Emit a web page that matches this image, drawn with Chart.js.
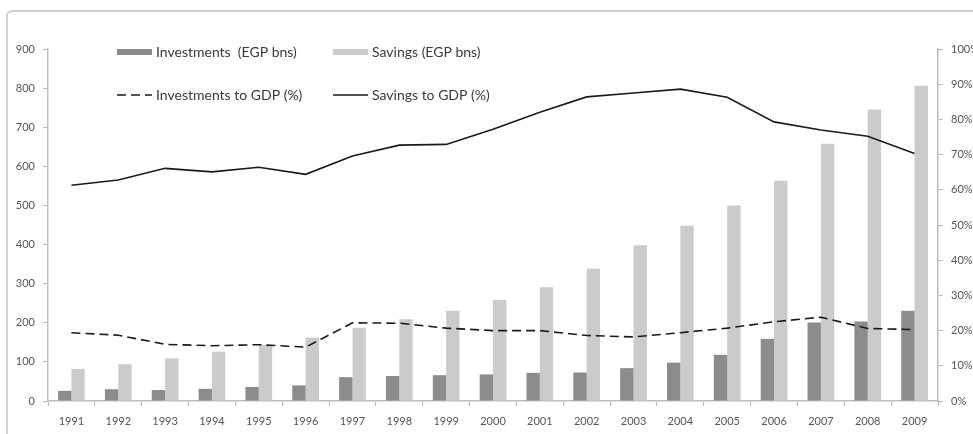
<!DOCTYPE html>
<html>
<head>
<meta charset="utf-8">
<script src="https://cdn.jsdelivr.net/npm/chart.js@4"></script>
<style>
  html, body { margin: 0; padding: 0; background: #fff; overflow: hidden; }
  #wrap { position: relative; width: 973px; height: 434px; }
  #frame {
    position: absolute; left: 6px; top: 10px; width: 1000px; height: 480px;
    border: 2px solid #cfcfcf; border-radius: 6px; pointer-events: none;
  }
</style>
</head>
<body>
<div id="wrap">
  <canvas id="myChart" width="973" height="434"></canvas>
  <div id="frame"></div>
</div>
<script>
var years = ['1991', '1992', '1993', '1994', '1995', '1996', '1997', '1998', '1999', '2000',
             '2001', '2002', '2003', '2004', '2005', '2006', '2007', '2008', '2009'];

// EGP bns
var investments = [26, 30, 28, 31, 36, 40, 61, 64, 66, 68, 72, 73, 84, 98, 118, 159, 201, 203, 231];
var savings = [82, 94, 109, 126, 144, 162, 187, 209, 231, 258, 291, 338, 398, 448, 500, 563, 658, 745, 806];

// share of GDP
var investToGdp = [0.194, 0.187, 0.161, 0.157, 0.160, 0.153, 0.222, 0.221, 0.207, 0.200,
                   0.200, 0.186, 0.182, 0.194, 0.207, 0.225, 0.238, 0.206, 0.203];
var savingsToGdp = [0.613, 0.628, 0.661, 0.651, 0.664, 0.644, 0.696, 0.727, 0.729, 0.772,
                    0.820, 0.864, 0.875, 0.886, 0.863, 0.793, 0.770, 0.752, 0.703];

var leftTicks = [0, 100, 200, 300, 400, 500, 600, 700, 800, 900];
var rightTicks = [0, 0.1, 0.2, 0.3, 0.4, 0.5, 0.6, 0.7, 0.8, 0.9, 1];

var tickFont = { family: 'Lato', size: 11 };
var axisColor = '#bdbdbd';

// legend laid out in two rows inside the plot
var gridLegend = {
  id: 'gridLegend',
  afterDraw: function (chart) {
    var c = chart.ctx;
    var slots = [[117, 52], [333, 52], [117, 95], [333, 95]];
    c.save();
    c.font = '14px Lato';
    c.textBaseline = 'middle';
    chart.data.datasets.forEach(function (ds, i) {
      var x = slots[i][0], y = slots[i][1];
      if (ds.type === 'bar') {
        c.fillStyle = ds.backgroundColor;
        c.fillRect(x, y - 3, 35, 6);
      } else {
        c.strokeStyle = ds.borderColor;
        c.lineWidth = ds.borderWidth;
        c.setLineDash(ds.borderDash || []);
        c.beginPath();
        c.moveTo(x, y);
        c.lineTo(x + 35, y);
        c.stroke();
        c.setLineDash([]);
      }
      c.fillStyle = '#3a3a3a';
      c.fillText(ds.label, x + 39, y);
    });
    c.restore();
  }
};

var ctx = document.getElementById('myChart').getContext('2d');
var myChart = new Chart(ctx, {
  data: {
    labels: years,
    datasets: [{
      type: 'bar',
      label: 'Investments  (EGP bns)',
      data: investments,
      backgroundColor: '#8c8c8c',
      yAxisID: 'y',
      order: 2,
      categoryPercentage: 0.57,
      barPercentage: 1
    }, {
      type: 'bar',
      label: 'Savings (EGP bns)',
      data: savings,
      backgroundColor: '#cbcbcb',
      yAxisID: 'y',
      order: 2,
      categoryPercentage: 0.57,
      barPercentage: 1
    }, {
      type: 'line',
      label: 'Investments to GDP (%)',
      data: investToGdp,
      borderColor: '#1a1a1a',
      borderWidth: 1.6,
      borderDash: [9, 5],
      pointRadius: 0,
      tension: 0,
      yAxisID: 'y1',
      order: 1
    }, {
      type: 'line',
      label: 'Savings to GDP (%)',
      data: savingsToGdp,
      borderColor: '#1a1a1a',
      borderWidth: 1.6,
      pointRadius: 0,
      tension: 0,
      yAxisID: 'y1',
      order: 1
    }]
  },
  options: {
    responsive: false,
    animation: false,
    layout: { padding: { top: 49, left: 0, right: 0, bottom: 0 } },
    scales: {
      x: {
        grid: { drawOnChartArea: false, color: axisColor, tickLength: 5 },
        border: { color: axisColor, width: 1.5 },
        ticks: { font: tickFont, color: '#555', padding: 9, maxRotation: 0, autoSkip: false },
        afterFit: function (s) { s.height = 33; }
      },
      y: {
        position: 'left',
        min: 0,
        max: 900,
        afterBuildTicks: function (s) { s.ticks = leftTicks.map(function (v) { return { value: v }; }); },
        grid: { drawOnChartArea: false, color: axisColor, tickLength: 5 },
        border: { color: axisColor, width: 1.5 },
        ticks: { font: tickFont, color: '#555', padding: 8 },
        afterFit: function (s) { s.width = 48; }
      },
      y1: {
        position: 'right',
        min: 0,
        max: 1,
        afterBuildTicks: function (s) { s.ticks = rightTicks.map(function (v) { return { value: v }; }); },
        grid: { drawOnChartArea: false, color: axisColor, tickLength: 5 },
        border: { color: axisColor, width: 1.5 },
        ticks: {
          font: tickFont, color: '#555', padding: 8,
          callback: function (v) { return Math.round(v * 100) + '%'; }
        },
        afterFit: function (s) { s.width = 35; }
      }
    },
    plugins: {
      legend: { display: false },
      tooltip: { enabled: false }
    }
  },
  plugins: [gridLegend]
});
</script>
</body>
</html>
